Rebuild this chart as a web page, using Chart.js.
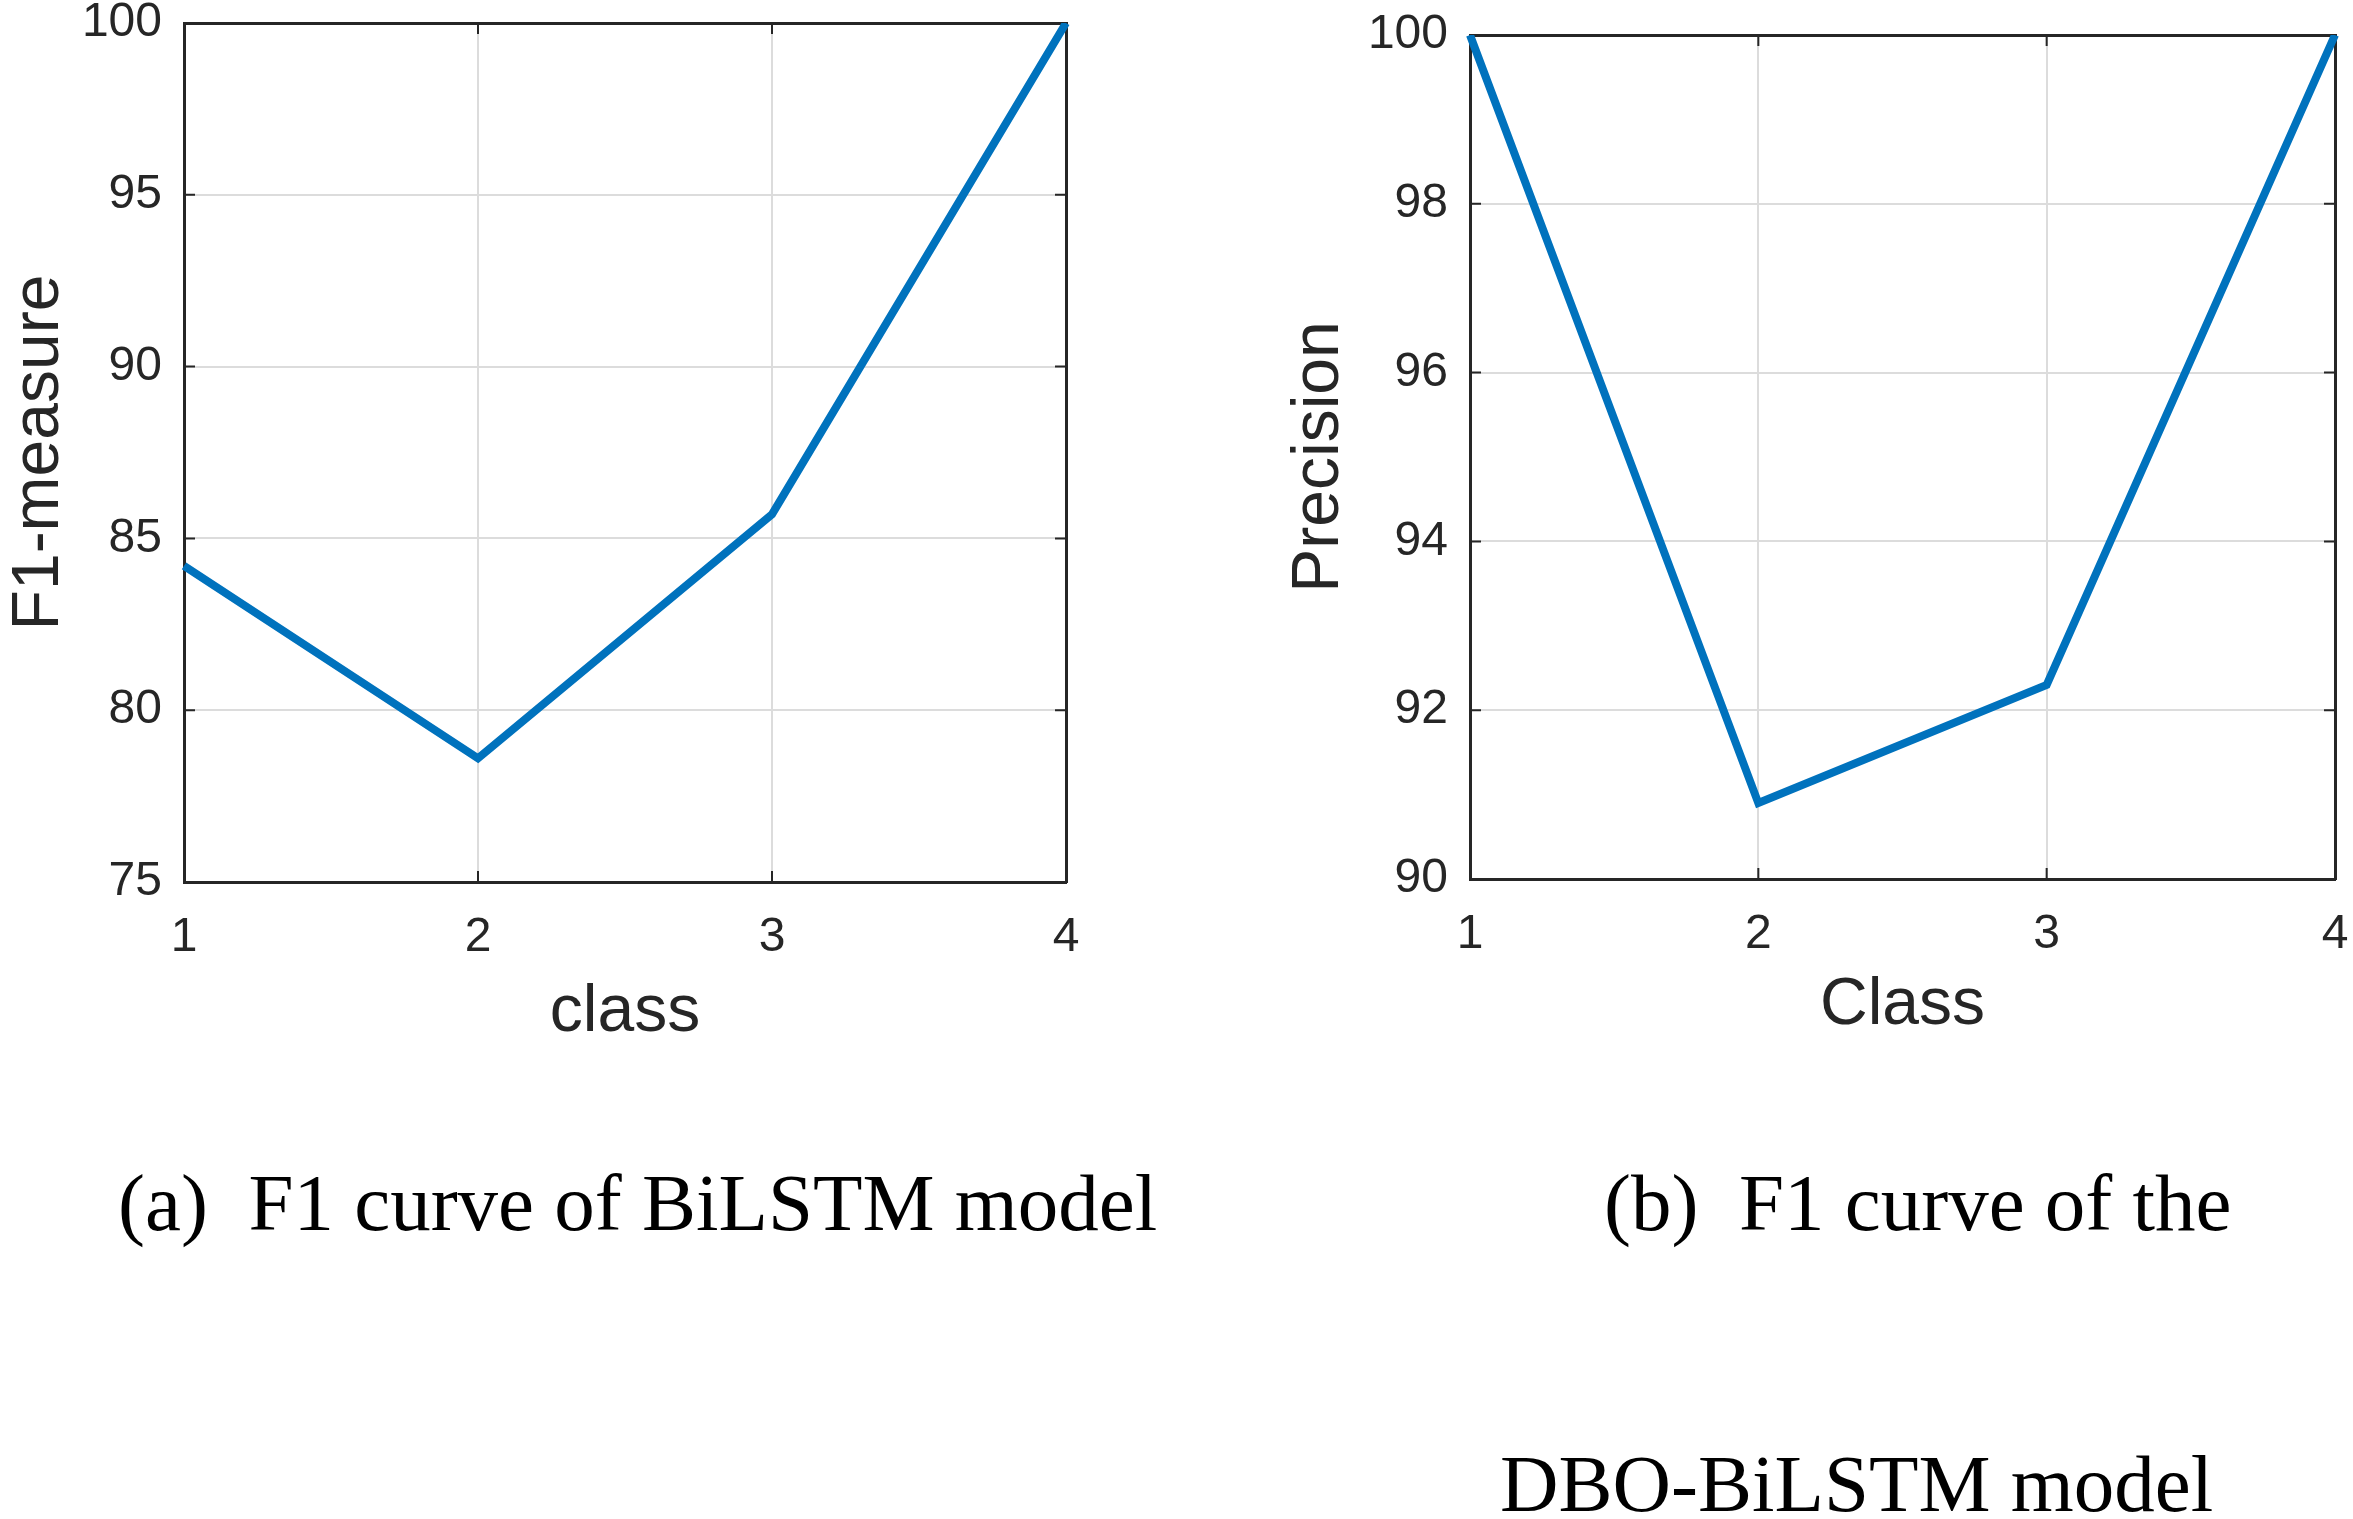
<!DOCTYPE html>
<html>
<head>
<meta charset="utf-8">
<script src="https://cdn.jsdelivr.net/npm/chart.js@4.4.1/dist/chart.umd.min.js"></script>
<style>
  html, body { margin: 0; padding: 0; background: #fff; }
  body { width: 2353px; height: 1519px; position: relative; overflow: hidden; }
  .box { position: absolute; }
  .cap {
    position: absolute;
    font-family: "Liberation Serif", "Times New Roman", serif;
    font-size: 81px;
    line-height: 80px;
    color: #000;
    white-space: pre;
  }
</style>
</head>
<body>
<div class="box" id="boxA" style="left:0;top:0;width:1120px;height:1052px;"><canvas id="chartA"></canvas></div>
<div class="box" id="boxB" style="left:1280px;top:0;width:1073px;height:1045px;"><canvas id="chartB"></canvas></div>
<div class="cap" style="left:118px;top:1163px;">(a)  F1 curve of BiLSTM model</div>
<div class="cap" style="left:1604px;top:1163px;">(b)  F1 curve of the</div>
<div class="cap" style="left:1500px;top:1444px;">DBO-BiLSTM model</div>
<script>
const classes = ['1', '2', '3', '4'];
const f1Bilstm = [84.2, 78.6, 85.7, 100];
const precisionDbo = [100, 90.9, 92.3, 100];
const f1Ticks = [75, 80, 85, 90, 95, 100];
const precisionTicks = [90, 92, 94, 96, 98, 100];

const lineBlue = '#0072BD';
const axisDark = '#262626';
const gridGrey = '#dcdcdc';

// keep label overhang from pushing the plot box around
function noPad(s) {
  s.paddingTop = 0; s.paddingBottom = 0; s.paddingLeft = 0; s.paddingRight = 0;
}

// matlab style ticks pointing into the box, on all four sides
const innerTicks = {
  id: 'innerTicks',
  beforeDatasetsDraw(chart) {
    const { ctx, chartArea: a, scales } = chart;
    const len = 11;
    ctx.save();
    ctx.strokeStyle = axisDark;
    ctx.lineWidth = 2;
    ctx.beginPath();
    scales.x.ticks.forEach((t, i) => {
      const px = scales.x.getPixelForTick(i);
      ctx.moveTo(px, a.bottom); ctx.lineTo(px, a.bottom - len);
      ctx.moveTo(px, a.top); ctx.lineTo(px, a.top + len);
    });
    scales.y.ticks.forEach(t => {
      const py = scales.y.getPixelForValue(t.value);
      ctx.moveTo(a.left, py); ctx.lineTo(a.left + len, py);
      ctx.moveTo(a.right, py); ctx.lineTo(a.right - len, py);
    });
    ctx.stroke();
    ctx.restore();
  }
};

function makeChart(id, values, yTicks, xTitle, yTitle, yWidth, xHeight, pad) {
  const ctx = document.getElementById(id).getContext('2d');
  const yMin = yTicks[0], yMax = yTicks[yTicks.length - 1];
  return new Chart(ctx, {
    type: 'line',
    data: {
      labels: classes,
      datasets: [{
        data: values,
        borderColor: lineBlue,
        borderWidth: 8,
        pointRadius: 0,
        tension: 0,
        fill: false
      }]
    },
    plugins: [innerTicks],
    options: {
      animation: false,
      responsive: true,
      maintainAspectRatio: false,
      devicePixelRatio: 1,
      layout: { padding: pad },
      plugins: { legend: { display: false }, tooltip: { enabled: false } },
      scales: {
        x: {
          offset: false,
          afterFit: s => { s.height = xHeight; noPad(s); },
          grid: { color: gridGrey, lineWidth: 2, drawTicks: false },
          border: { color: axisDark, width: 3 },
          ticks: { color: axisDark, padding: 27, maxRotation: 0,
                   font: { family: 'Liberation Sans', size: 48 } },
          title: { display: true, text: xTitle, color: axisDark, padding: 0,
                   font: { family: 'Liberation Sans', size: 66 } }
        },
        y: {
          min: yMin, max: yMax,
          afterFit: s => { s.width = yWidth; noPad(s); },
          afterBuildTicks: s => { s.ticks = yTicks.map(v => ({ value: v })); },
          grid: { color: gridGrey, lineWidth: 2, drawTicks: false },
          border: { color: axisDark, width: 3 },
          ticks: { color: axisDark, padding: 22,
                   font: { family: 'Liberation Sans', size: 48 } },
          title: { display: true, text: yTitle, color: axisDark, padding: 0,
                   font: { family: 'Liberation Sans', size: 66 } }
        },
        xTop: {
          type: 'linear', position: 'top', min: 1, max: 4,
          afterFit: s => { s.height = 0; noPad(s); },
          grid: { drawOnChartArea: false, drawTicks: false },
          border: { color: axisDark, width: 3 },
          ticks: { display: false }
        },
        yRight: {
          type: 'linear', position: 'right', min: yMin, max: yMax,
          afterFit: s => { s.width = 0; noPad(s); },
          grid: { drawOnChartArea: false, drawTicks: false },
          border: { color: axisDark, width: 3 },
          ticks: { display: false }
        }
      }
    }
  });
}

makeChart('chartA', f1Bilstm, f1Ticks, 'class', 'F1-measure', 184, 170,
          { top: 23, right: 54, bottom: 0, left: 0 });
makeChart('chartB', precisionDbo, precisionTicks, 'Class', 'Precision', 190, 166,
          { top: 35, right: 18, bottom: 0, left: 0 });
</script>
</body>
</html>
